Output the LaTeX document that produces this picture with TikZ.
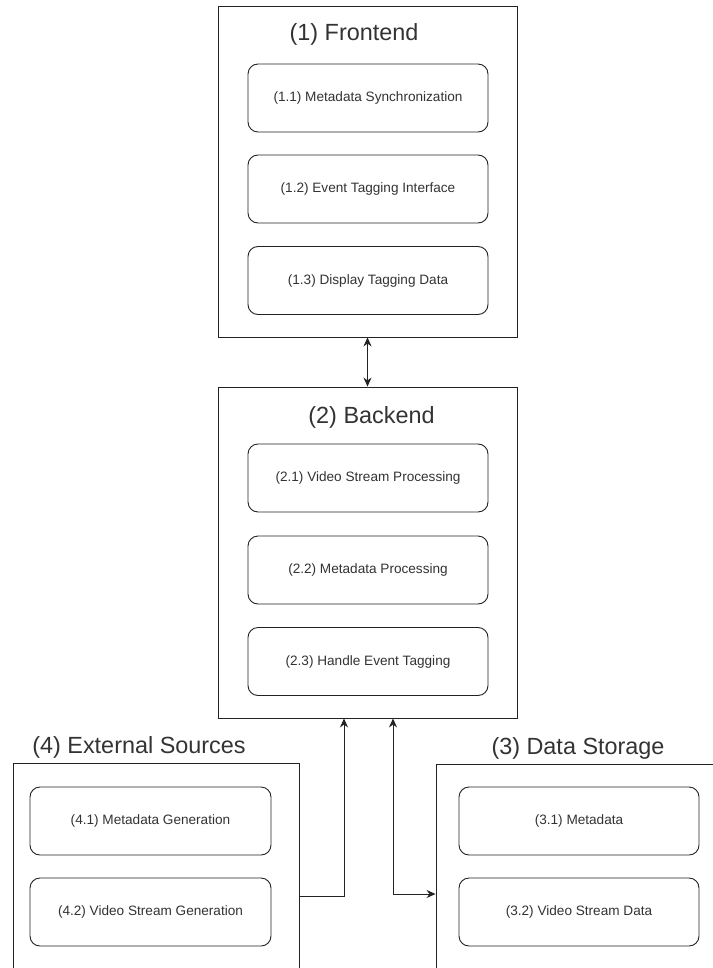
\documentclass[tikz,border=0pt]{standalone}
\usepackage{fontspec}
\setmainfont{Liberation Sans}
\usetikzlibrary{arrows.meta}
\definecolor{inkline}{HTML}{222222}
\definecolor{inktext}{HTML}{333333}
\tikzset{
  group/.style={draw=inkline, line width=0.9pt, fill=white, rectangle, inner sep=0pt},
  item/.style={draw=inkline, line width=0.9pt, rounded corners=10pt, rectangle,
    minimum width=240pt, minimum height=68pt, inner sep=0pt,
    text=inktext, font=\fontsize{13.6}{16}\selectfont},
  heading/.style={text=inktext, font=\fontsize{23.4}{27}\selectfont, inner sep=0pt},
  link/.style={draw=inkline, line width=0.9pt, -{Stealth[length=9pt,width=8pt]}},
  duallink/.style={draw=inkline, line width=0.9pt, {Stealth[length=9pt,width=8pt]}-{Stealth[length=9pt,width=8pt]}}
}
\begin{document}
\begin{tikzpicture}[x=1pt,y=-1pt]
\useasboundingbox (0,0) rectangle (712,968);
\fill[white] (0,0) rectangle (712,968);

% (1) Frontend
\node[group, minimum width=299pt, minimum height=331pt] (front) at (367.5,171.5) {};
\node[heading] (fronttitle) at (354,34) {(1) Frontend};
\node[item] (f1) at (368,98) {(1.1) Metadata Synchronization};
\node[item] (f2) at (368,189) {(1.2) Event Tagging Interface};
\node[item] (f3) at (368,280.5) {(1.3) Display Tagging Data};

% (2) Backend
\node[group, minimum width=299pt, minimum height=331pt] (back) at (367.5,552.5) {};
\node[heading] (backtitle) at (371.5,417) {(2) Backend};
\node[item] (b1) at (368,478) {(2.1) Video Stream Processing};
\node[item] (b2) at (368,570) {(2.2) Metadata Processing};
\node[item] (b3) at (368,661.5) {(2.3) Handle Event Tagging};

% (4) External Sources
\node[heading] (exttitle) at (139,747) {(4) External Sources};
\node[group, minimum width=286pt, minimum height=266pt] (ext) at (156,896) {};
\node[item, minimum width=241pt] (e1) at (150.5,821) {(4.1) Metadata Generation};
\node[item, minimum width=241pt] (e2) at (150.5,912) {(4.2) Video Stream Generation};

% (3) Data Storage
\node[heading] (storetitle) at (578,748) {(3) Data Storage};
\node[group, minimum width=300pt, minimum height=260pt] (store) at (586,894) {};
\node[item] (s1) at (579,821) {(3.1) Metadata};
\node[item] (s2) at (579,912) {(3.2) Video Stream Data};

% connectors
\draw[duallink] (front.south) -- (back.north);
\draw[link] (ext.east) -| ([xshift=-23.5pt]back.south);
\draw[duallink] ([xshift=25.5pt]back.south) |- (store.west);
\end{tikzpicture}
\end{document}
